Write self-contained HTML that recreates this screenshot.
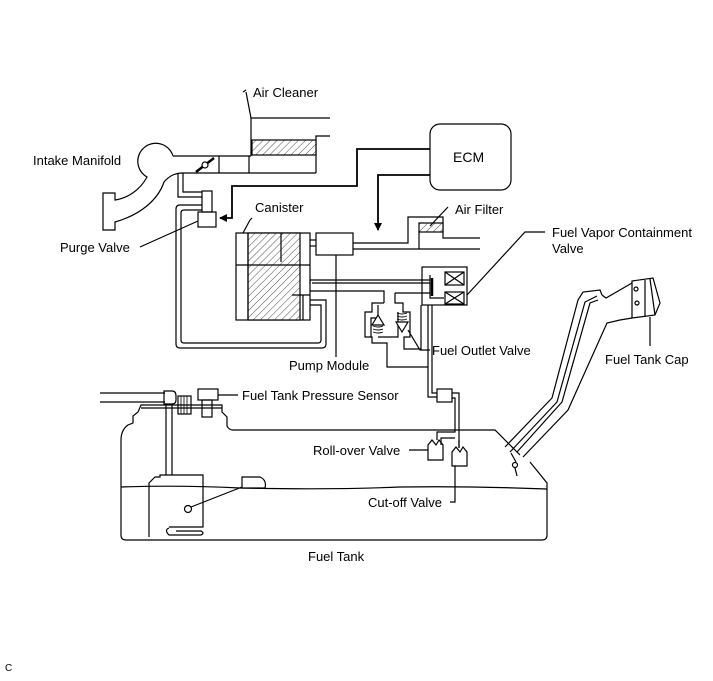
<!DOCTYPE html>
<html><head><meta charset="utf-8"><style>
html,body{margin:0;padding:0;background:#fff;}
svg{display:block;}
text{font-family:"Liberation Sans",Arial,sans-serif;font-size:13px;fill:#000;}
</style></head><body>
<svg width="713" height="681" viewBox="0 0 713 681" xmlns="http://www.w3.org/2000/svg">
<defs>
<pattern id="h" width="5" height="5" patternUnits="userSpaceOnUse" patternTransform="rotate(45)">
<rect width="5" height="5" fill="#fff"/><line x1="0" y1="0" x2="0" y2="5" stroke="#000" stroke-width="0.7"/>
</pattern>
<marker id="ar" markerWidth="8" markerHeight="8" refX="7" refY="4" orient="auto" markerUnits="userSpaceOnUse">
<path d="M0,0 L8,4 L0,8 z" fill="#000"/></marker>
</defs>
<g fill="none" stroke="#000" stroke-width="1.2">
<!-- Air cleaner -->
<polyline points="243,92 246,90"/>
<line x1="246" y1="92" x2="251" y2="118"/>
<polyline points="330,118 251,118 251,156"/>
<polyline points="330,136 316,136 316,173"/>
<rect x="252" y="140" width="64" height="15" fill="url(#h)"/>
<line x1="173" y1="156" x2="251" y2="156"/>
<line x1="183" y1="173" x2="316" y2="173"/>
<line x1="219" y1="156" x2="219" y2="173"/>
<line x1="249" y1="156" x2="249" y2="173"/>
<!-- throttle -->
<line x1="196" y1="172" x2="214" y2="158" stroke-width="2.5"/>
<circle cx="205" cy="165" r="3" fill="#fff"/>
<!-- manifold -->
<path d="M173,156 A18,18 0 1 0 147,177 C140,190 128,198 115,200 L115,193 L103,193 L103,230 L115,230 L115,222 C140,215 158,200 164,182 C170,175 176,173 183,173"/>
<!-- ECM -->
<rect x="430" y="124" width="81" height="66" rx="10"/>
<polyline points="430,149 357,149 357,186 232,186 232,218 220,218" stroke-width="1.8" marker-end="url(#ar)"/>
<polyline points="430,175 378,175 378,230" stroke-width="1.8" marker-end="url(#ar)"/>
<!-- purge valve -->
<rect x="202" y="191" width="10" height="21"/>
<rect x="198" y="212" width="18" height="15"/>
<line x1="140" y1="247" x2="198" y2="221"/>
<polyline points="178,173 178,197 202,197"/>
<polyline points="183,173 183,192 202,192"/>
<path d="M202,205 L180,205 Q176,205 176,209 L176,344 Q176,348 180,348 L322,348 Q326,348 326,344 L326,300 L310,300"/>
<path d="M202,210 L184,210 Q181,210 181,213 L181,340 Q181,343 184,343 L318,343 Q321,343 321,340 L321,305 L310,305"/>
<!-- canister -->
<rect x="236" y="233" width="74" height="87"/>
<rect x="248" y="233" width="52" height="87" fill="url(#h)"/>
<line x1="248" y1="233" x2="248" y2="320"/>
<line x1="236" y1="265" x2="310" y2="265"/>
<line x1="281" y1="233" x2="281" y2="262"/>
<line x1="292" y1="295" x2="310" y2="295"/>
<line x1="303" y1="295" x2="303" y2="320"/>
<line x1="250" y1="220" x2="243" y2="233"/>
<line x1="250" y1="220" x2="252" y2="218"/>
<!-- canister to pump module -->
<line x1="310" y1="240" x2="316" y2="240"/>
<line x1="310" y1="246" x2="316" y2="246"/>
<rect x="316" y="233" width="37" height="22"/>
<line x1="336" y1="255" x2="336" y2="357"/>
<!-- pump to air filter -->
<polyline points="353,243 408,243 408,217 443,217 443,238 480,238"/>
<line x1="353" y1="249" x2="480" y2="249"/>
<line x1="419" y1="231" x2="419" y2="249"/>
<rect x="419" y="223" width="24" height="9" fill="url(#h)"/>
<line x1="430" y1="226" x2="448" y2="207"/>
<!-- pipes to FVCV -->
<polyline points="310,284 310,280 430,280"/>
<polyline points="310,291 384,291 384,303"/>
<line x1="395" y1="293" x2="430" y2="293"/>
<line x1="312" y1="283" x2="430" y2="283"/>
<!-- FVCV -->
<rect x="422" y="267" width="45" height="38"/>
<polyline points="430,275 430,298 444,298"/>
<line x1="432" y1="278" x2="432" y2="296" stroke-width="2.5"/>
<rect x="445" y="272" width="19" height="13"/><path d="M445,272 L464,285 M464,272 L445,285"/>
<rect x="445" y="292" width="19" height="12"/><path d="M445,292 L464,304 M464,292 L445,304"/>
<polyline points="467,295 525,232 545,232"/>
<!-- outlet valve -->
<path d="M384,303 L372,303 L372,312 L365,312 L365,337 L372,337 L372,343 L387,343 L387,367 L428,367 L428,305"/>
<path d="M395,293 L395,303 L403,303 L403,312 L410,312 L410,337 L404,337 L404,349 L421,349 L421,305"/>
<path d="M378,305 L378,318 L371,318 L371,337 M378,337 L398,337 L398,312"/>
<path d="M372,325 L378,315 L384,325 Z" fill="#fff"/>
<path d="M396,322 L402,332 L408,322 Z" fill="#fff"/>
<path d="M373,326 q5,2 10,0 M373,329 q5,2 10,0 M373,332 q5,2 10,0 M397,313 q5,2 10,0 M397,316 q5,2 10,0 M397,319 q5,2 10,0" stroke-width="0.9"/>
<polyline points="408,330 420,350 430,350"/>
<!-- to pressure/roll-over -->
<polyline points="428,367 428,397 437,397"/>
<polyline points="432,305 432,393 437,393"/>
<rect x="437" y="389" width="15" height="13"/>
<polyline points="452,393 459,393 459,448"/>
<polyline points="452,398 455,398 455,432 437,432 437,440"/>
<polyline points="455,438 441,438 441,445"/>
<path d="M428,445 L428,460 L443,460 L443,445 L439,440 L436,445 L432,440 Z"/>
<path d="M452,452 L452,466 L467,466 L467,452 L463,447 L460,452 L456,447 Z"/>
<line x1="459" y1="440" x2="459" y2="448"/>
<line x1="409" y1="450" x2="428" y2="450"/>
<polyline points="455,466 455,502 450,502"/>
<!-- tank -->
<path d="M232,430 L495,430 L520,455 M530,462 L547,483 L547,535 Q547,540 542,540 L126,540 Q121,540 121,535 L121,440 Q121,430 128,425 L133,423 L133,416 L138,412 L141,405 L222,405 L222,412 L227,417 L227,426 Q229,430 233,430"/>
<path d="M121,487 Q180,485 240,488 Q330,490 400,487 Q470,486 547,489"/>
<!-- pipe on top of tank -->
<line x1="100" y1="393" x2="165" y2="393"/>
<line x1="100" y1="402" x2="165" y2="402"/>
<path d="M164,391 h8 q4,0 4,5 v4 q0,4 -4,4 h-8 z"/>
<line x1="166" y1="404" x2="166" y2="475"/>
<line x1="172" y1="404" x2="172" y2="475"/>
<rect x="178" y="396" width="13" height="18"/>
<path d="M181,396 v18 M184,396 v18 M187,396 v18" stroke-width="0.8"/>
<line x1="141" y1="408" x2="222" y2="408"/>
<rect x="198" y="389" width="20" height="11"/>
<rect x="202" y="400" width="10" height="17"/>
<line x1="218" y1="395" x2="238" y2="395"/>
<!-- pump in tank -->
<path d="M149,537 L149,483 L155,477 L160,477 L160,475 L203,475 L203,527 L169,527"/>
<path d="M169,528 Q164,530 169,535 L201,535 Q205,533 201,531 L176,531"/>
<circle cx="188" cy="509" r="3.5" fill="#fff"/>
<line x1="191" y1="507" x2="242" y2="487"/>
<path d="M242,477 L260,477 Q267,480 265,488 L242,488 Z" fill="#fff"/>
<!-- filler neck -->
<polyline points="505,447 552,398 578,300 583,292 600,290 602,295"/>
<polyline points="510,452 557,402 585,302 597,296"/>
<polyline points="517,452 562,402 590,303 598,300"/>
<polyline points="523,457 568,410 607,323 620,320 632,318"/>
<polyline points="602,295 606,298 632,283"/>
<path d="M632,281 L653,278 L660,303 L655,315 L632,318 Z"/>
<line x1="645" y1="280" x2="645" y2="317"/>
<line x1="650" y1="279" x2="655" y2="315"/>
<circle cx="636" cy="289" r="2"/><circle cx="637" cy="303" r="2"/>
<line x1="650" y1="317" x2="650" y2="346"/>
<line x1="511" y1="453" x2="516" y2="462"/>
<circle cx="515" cy="465" r="2.5"/>
<line x1="515" y1="468" x2="517" y2="476"/>
</g>
<text x="253" y="97">Air Cleaner</text>
<text x="33" y="165">Intake Manifold</text>
<text x="453" y="162" style="font-size:14px">ECM</text>
<text x="255" y="212">Canister</text>
<text x="455" y="214">Air Filter</text>
<text x="60" y="252">Purge Valve</text>
<text x="552" y="237">Fuel Vapor Containment</text>
<text x="552" y="253">Valve</text>
<text x="289" y="370">Pump Module</text>
<text x="432" y="355">Fuel Outlet Valve</text>
<text x="605" y="364">Fuel Tank Cap</text>
<text x="242" y="400">Fuel Tank Pressure Sensor</text>
<text x="313" y="455">Roll-over Valve</text>
<text x="368" y="507">Cut-off Valve</text>
<text x="308" y="561">Fuel Tank</text>
<text x="5" y="671" style="font-size:10px">C</text>
</svg>
</body></html>
